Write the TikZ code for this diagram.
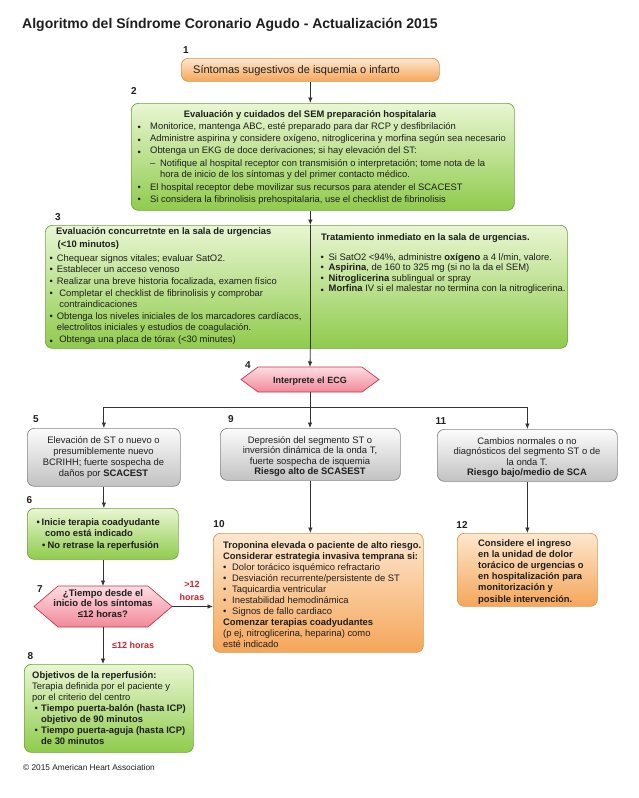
\documentclass[tikz,border=0pt]{standalone}
\usepackage{fontspec}
\setmainfont{Liberation Sans}
\usetikzlibrary{arrows.meta}
\definecolor{orT}{HTML}{FDE7CF}
\definecolor{orB}{HTML}{F5A65A}
\definecolor{orD}{HTML}{D9974F}
\definecolor{grT}{HTML}{E9F6D3}
\definecolor{grB}{HTML}{8FCB4C}
\definecolor{grD}{HTML}{6EA63A}
\definecolor{gyT}{HTML}{FCFCFC}
\definecolor{gyB}{HTML}{C2C2C2}
\definecolor{gyD}{HTML}{888888}
\definecolor{pkT}{HTML}{FDDDE2}
\definecolor{pkB}{HTML}{F2899A}
\definecolor{pkD}{HTML}{BE3A4F}
\definecolor{redL}{HTML}{D0212F}
\definecolor{lnC}{HTML}{333333}
\definecolor{txC}{HTML}{1E1E1E}
\newlength\bulw
\newcommand\fsz[1]{\fontsize{9.4}{#1}\selectfont}
\newcommand\bitm[1]{\par\noindent\hangindent=\bulw\hangafter=1\makebox[\bulw][l]{\textbullet}#1}
\newcommand\bdot[1]{\par\noindent\hangindent=\bulw\hangafter=1\makebox[\bulw][l]{\raisebox{-1.8pt}{\textbullet}}#1}
\begin{document}
\begin{tikzpicture}[x=1pt,y=-1pt, font=\fsz{11.2},
  every node/.style={text=txC},
  box/.style={draw, rounded corners=7pt, inner sep=0pt, anchor=north west, line width=0.7pt},
  orbox/.style={box, draw=orD, top color=orT, bottom color=orB},
  grbox/.style={box, draw=grD, top color=grT, bottom color=grB},
  gybox/.style={box, draw=gyD, top color=gyT, bottom color=gyB},
  hexst/.style={draw=pkD, line width=0.7pt, top color=pkT, bottom color=pkB},
  hexn/.style={inner sep=0pt, outer sep=0pt},
  num/.style={font=\fontsize{10}{12}\selectfont\bfseries, inner sep=0pt},
  txt/.style={anchor=base west, inner sep=0pt},
  ctxt/.style={anchor=base, inner sep=0pt},
  lbl/.style={font=\fontsize{9}{13}\selectfont\bfseries, text=redL, inner sep=0pt},
  arr/.style={draw=lnC, line width=0.8pt, -{Latex[length=5.5pt,width=4.5pt]}},
  lin/.style={draw=lnC, line width=0.8pt}]
\fill[white] (0,0) rectangle (638,798);
\useasboundingbox (0,0) rectangle (638,798);

% title
\node[txt, font=\fontsize{14}{16}\selectfont\bfseries] (title) at (22,28) {Algoritmo del Síndrome Coronario Agudo - Actualización 2015};

% numbers
\node[num] (n1) at (186,50) {1};
\node[num] (n2) at (134,91) {2};
\node[num] (n3) at (58,217) {3};
\node[num] (n4) at (248,365) {4};
\node[num] (n5) at (36,419) {5};
\node[num] (n9) at (231,419) {9};
\node[num] (n11) at (441,421) {11};
\node[num] (n6) at (29.5,500) {6};
\node[num] (n7) at (40,589) {7};
\node[num] (n8) at (30.5,656) {8};
\node[num] (n10) at (219,524) {10};
\node[num] (n12) at (462,525) {12};

% box 1
\node[orbox, minimum width=258pt, minimum height=23pt] (b1) at (181,58) {};
\node[txt, font=\fontsize{11}{13}\selectfont] (t1) at (193,73.5) {Síntomas sugestivos de isquemia o infarto};

% box 2
\node[grbox, minimum width=383pt, minimum height=107pt] (b2) at (131,103) {};
\node[ctxt, font=\fsz{11}\bfseries] (t2h) at (310,117) {Evaluación y cuidados del SEM preparación hospitalaria};
\node[txt] (t2) at (137.5,129) {\begin{minipage}[t]{374pt}\fsz{11.5}\raggedright\setlength\parskip{0.9pt}\setlength\bulw{12.5pt}%
\bdot{Monitorice, mantenga ABC, esté preparado para dar RCP y desfibrilación}
\bdot{Administre aspirina y considere oxígeno, nitroglicerina y morfina según sea necesario}
\bdot{Obtenga un EKG de doce derivaciones; si hay elevación del ST:}
\par\noindent\hspace*{12.5pt}\makebox[10pt][l]{--}Notifique al hospital receptor con transmisión o interpretación; tome nota de la\newline\hspace*{22.5pt}hora de inicio de los síntomas y del primer contacto médico.
\bitm{El hospital receptor debe movilizar sus recursos para atender el SCACEST}
\bitm{Si considera la fibrinolisis prehospitalaria, use el checklist de fibrinolisis}
\end{minipage}};

% box 3
\node[grbox, minimum width=522pt, minimum height=123pt] (b3) at (45,225) {};
\node[txt] (t3h) at (56,234) {\begin{minipage}[t]{250pt}\fsz{13.6}\bfseries\raggedright Evaluación concurretnte en la sala de urgencias\\\hspace*{1.5pt}(<10 minutos)\end{minipage}};
\node[txt] (t3) at (49.5,261) {\begin{minipage}[t]{259pt}\fsz{11}\raggedright\setlength\parskip{0.9pt}\setlength\bulw{7.2pt}%
\bitm{Chequear signos vitales; evaluar SatO2.}
\bitm{Establecer un acceso venoso}
\bitm{Realizar una breve historia focalizada, examen físico}
\bitm{\hspace*{2.5pt}Completar el checklist de fibrinolisis y comprobar\newline\hspace*{2.5pt}contraindicaciones}
\bitm{Obtenga los niveles iniciales de los marcadores cardíacos,\newline electrolitos iniciales y estudios de coagulación.}
\bdot{\hspace*{2.5pt}Obtenga una placa de tórax (<30 minutes)}
\end{minipage}};
\node[txt, font=\fsz{11}\bfseries] (t3rh) at (321,240) {Tratamiento inmediato en la sala de urgencias.};
\node[txt] (t3r) at (320.5,260) {\begin{minipage}[t]{245pt}\fsz{10.5}\raggedright\setlength\bulw{8pt}%
\bitm{Si SatO2 <94\%, administre \textbf{oxígeno} a 4 l/min, valore.}
\bitm{\textbf{Aspirina}, de 160 to 325 mg (si no la da el SEM)}
\bitm{\textbf{Nitroglicerina} sublingual or spray}
\bdot{\textbf{Morfina} IV si el malestar no termina con la nitroglicerina.}
\end{minipage}};

% hexagon 4
\node[hexn, minimum width=138pt, minimum height=25pt] (h4) at (310,379.5) {};
\path[hexst] (h4.west) -- ([xshift=17pt]h4.north west) -- ([xshift=-17pt]h4.north east) -- (h4.east) -- ([xshift=-17pt]h4.south east) -- ([xshift=17pt]h4.south west) -- cycle;
\node[ctxt, font=\fontsize{9}{11}\selectfont\bfseries] (t4) at (310,383) {Interprete el ECG};

% boxes 5, 9, 11
\node[gybox, minimum width=153pt, minimum height=58pt] (b5) at (27,428) {};
\node[ctxt] (t5) at (103.5,443) {\begin{minipage}[t]{150pt}\centering\fsz{11}Elevación de ST o nuevo o\\presumiblemente nuevo\\BCRIHH; fuerte sospecha de\\daños por \textbf{SCACEST}\end{minipage}};
\node[gybox, minimum width=180pt, minimum height=52pt] (b9) at (220,428) {};
\node[ctxt] (t9) at (310,443) {\begin{minipage}[t]{178pt}\centering\fsz{10.6}Depresión del segmento ST o\\inversión dinámica de la onda T,\\fuerte sospecha de isquemia\\\textbf{Riesgo alto de SCASEST}\end{minipage}};
\node[gybox, minimum width=180pt, minimum height=52pt] (b11) at (437,429) {};
\node[ctxt] (t11) at (527,444) {\begin{minipage}[t]{178pt}\centering\fsz{10.6}Cambios normales o no\\diagnósticos del segmento ST o de\\la onda T.\\\textbf{Riesgo bajo/medio de SCA}\end{minipage}};

% box 6
\node[grbox, minimum width=151pt, minimum height=51pt] (b6) at (27,508) {};
\node[txt] (t6) at (36.5,525) {\begin{minipage}[t]{140pt}\fsz{11}\bfseries\raggedright
\noindent\makebox[5pt][l]{\textbullet}Inicie terapia coadyudante\\\hspace*{8.5pt}como está indicado\par\vspace{1pt}
\noindent\hspace*{5.5pt}\makebox[5.5pt][l]{\textbullet}No retrase la reperfusión\end{minipage}};

% hexagon 7
\node[hexn, minimum width=138pt, minimum height=41pt] (h7) at (103,606.5) {};
\path[hexst] (h7.west) -- ([xshift=24pt]h7.north west) -- ([xshift=-24pt]h7.north east) -- (h7.east) -- ([xshift=-24pt]h7.south east) -- ([xshift=24pt]h7.south west) -- cycle;
\node[ctxt] (t7) at (103,596) {\begin{minipage}[t]{136pt}\centering\fontsize{9.5}{10.5}\selectfont\bfseries ¿Tiempo desde el\\inicio de los síntomas\\≤12 horas?\end{minipage}};

% box 8
\node[grbox, minimum width=169pt, minimum height=88pt] (b8) at (24,664) {};
\node[txt] (t8) at (32,678) {\begin{minipage}[t]{165pt}\fsz{11}\raggedright\setlength\bulw{9pt}%
\noindent\textbf{Objetivos de la reperfusión:}\\Terapia definida por el paciente y\\por el criterio del centro
\par\noindent\hangindent=\bulw\hangafter=1\makebox[\bulw][l]{\hspace{2.5pt}\textbullet}\textbf{Tiempo puerta-balón (hasta ICP)}\newline\textbf{objetivo de 90 minutos}
\par\noindent\hangindent=\bulw\hangafter=1\makebox[\bulw][l]{\hspace{2.5pt}\textbullet}\textbf{Tiempo puerta-aguja (hasta ICP)}\newline\textbf{de 30 minutos}
\end{minipage}};

% box 10
\node[orbox, minimum width=210pt, minimum height=119pt] (b10) at (213,533) {};
\node[txt] (t10) at (223,548) {\begin{minipage}[t]{205pt}\fsz{11.1}\raggedright\setlength\bulw{9pt}%
\noindent\textbf{Troponina elevada o paciente de alto riesgo.}\\\textbf{Considerar estrategia invasiva temprana si:}
\bitm{Dolor torácico isquémico refractario}
\bitm{Desviación recurrente/persistente de ST}
\bitm{Taquicardia ventricular}
\bitm{Inestabilidad hemodinámica}
\bitm{Signos de fallo cardiaco}
\par\noindent\textbf{Comenzar terapias coadyudantes}\\(p ej, nitroglicerina, heparina) como\\esté indicado
\end{minipage}};

% box 12
\node[orbox, minimum width=140pt, minimum height=73pt] (b12) at (457,533) {};
\node[txt] (t12) at (478,546) {\begin{minipage}[t]{118pt}\fsz{11.2}\bfseries\raggedright Considere el ingreso\\en la unidad de dolor\\torácico de urgencias o\\en hospitalización para\\monitorización y\\posible intervención.\end{minipage}};

% connectors
\draw[arr] (b1.south) -- (b1.south |- b2.north);
\draw[arr] (b1.south |- b2.south) -- (b1.south |- b3.north);
\draw[lin] (b1.south |- b3.north) -- (b1.south |- b3.south);
\draw[arr] (b1.south |- b3.south) -- (h4.north);
\draw[arr] (h4.south) -- (h4.south |- b9.north);
\coordinate (jn) at (310,407);
\draw[lin] (b5.north |- jn) -- (b11.north |- jn);
\draw[arr] (b5.north |- jn) -- (b5.north);
\draw[arr] (b11.north |- jn) -- (b11.north);
\draw[arr] (b5.south) -- (b5.south |- b6.north);
\draw[arr] (h7.north |- b6.south) -- (h7.north);
\draw[arr] (h7.south) -- (h7.south |- b8.north);
\draw[arr] (h7.east) -- (h7.east -| b10.west);
\draw[arr] (b9.south) -- (b9.south |- b10.north);
\draw[arr] (b11.south) -- (b11.south |- b12.north);

% labels
\node[lbl, align=center] (l12a) at (192,590.5) {>12\\horas};
\node[lbl, anchor=base west] (l12b) at (112,648) {≤12 horas};

% copyright
\node[txt, font=\fontsize{8.3}{10}\selectfont] (copy) at (23,770) {© 2015 American Heart Association};
\end{tikzpicture}
\end{document}
